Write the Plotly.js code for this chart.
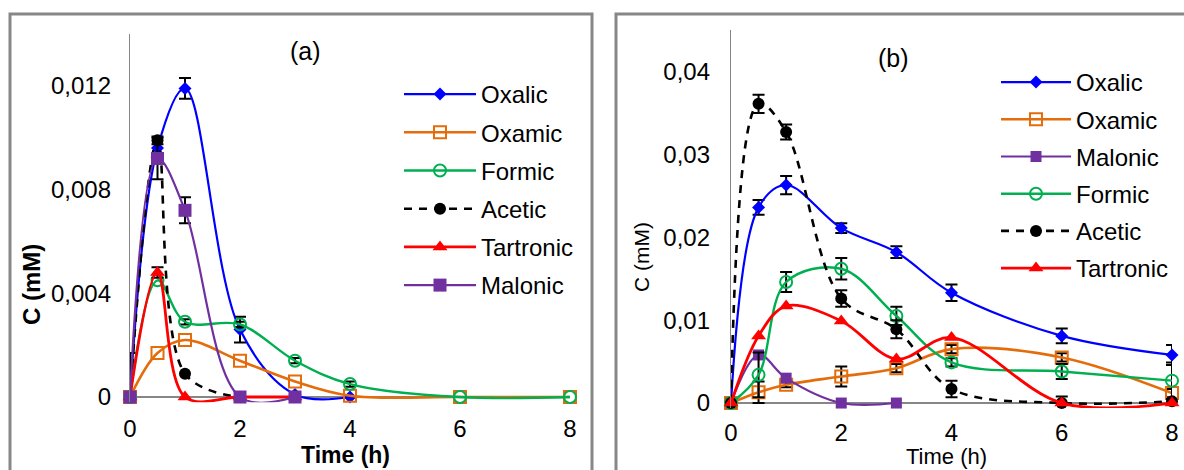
<!DOCTYPE html>
<html><head><meta charset="utf-8">
<script src="https://cdn.plot.ly/plotly-3.0.1.min.js"></script>
<style>html,body{margin:0;padding:0;background:#fff}#chart{width:1184px;height:470px}</style>
</head><body><div id="chart"></div>
<script>
// ---------- data ----------
const timeH = [0, 0.5, 1, 2, 3, 4, 6, 8];
const xTicks = [0, 2, 4, 6, 8];
const xTickText = ['0', '2', '4', '6', '8'];

// panel (a)
const aOxalic    = [0, 0.0096, 0.0119, 0.0026, 0.0001, 0, null, null];
const aOxamic    = [0, 0.0017, 0.0022, 0.0014, 0.0006, 0.00005, 0, 0];
const aFormic    = [0, 0.0045, 0.0029, 0.0028, 0.0014, 0.0005, 0, 0];
const aAcetic    = [0, 0.0099, 0.0009, 0, null, null, null, null];
const aTartronic = [0, 0.0048, 0, 0, 0, null, null, null];
const aMalonic   = [0, 0.0092, 0.0072, 0, 0, null, null, null];

const aOxalicErr    = [NaN, NaN, 0.0004, 0.0005, NaN, NaN, NaN, NaN];
const aOxamicErrUp  = [0.0017, NaN, NaN, NaN, NaN, NaN, NaN, NaN];
const aOxamicErrDn  = [0, NaN, NaN, NaN, NaN, NaN, NaN, NaN];
const aFormicErr    = [NaN, NaN, 0.0001, 0.0001, 0.0001, 0.0001, NaN, NaN];
const aAceticErr    = [NaN, 0.00015, NaN, NaN, NaN, NaN, NaN, NaN];
const aTartronicErr = [NaN, 0.0002, NaN, NaN, NaN, NaN, NaN, NaN];
const aMalonicErr   = [NaN, 0.0008, 0.0005, NaN, NaN, NaN, NaN, NaN];

const aYTicks = [0, 0.004, 0.008, 0.012];
const aYTickText = ['0', '0,004', '0,008', '0,012'];

// panel (b)
const bOxalic    = [0, 0.0236, 0.0263, 0.0211, 0.0182, 0.0133, 0.0081, 0.0058];
const bOxamic    = [0, 0.0013, 0.0022, 0.0032, 0.0042, 0.0065, 0.0055, 0.0012];
const bMalonic   = [0, 0.0058, 0.0030, 0, 0, null, null, null];
const bFormic    = [0, 0.0034, 0.0146, 0.0162, 0.0105, 0.0049, 0.0038, 0.0027];
const bAcetic    = [0, 0.0361, 0.0327, 0.0126, 0.0089, 0.0017, 0, 0.0002];
const bTartronic = [0, 0.0081, 0.0117, 0.0099, 0.0053, 0.0079, 0, 0];

const bOxalicErr    = [NaN, 0.0009, 0.0011, 0.0006, 0.0007, 0.0010, 0.0009, 0.0012];
const bOxamicErr    = [NaN, 0.0013, 0.0003, 0.0012, 0.0005, 0.0005, 0.0005, 0.0005];
const bMalonicErr   = [NaN, NaN, NaN, NaN, NaN, NaN, NaN, NaN];
const bFormicErr    = [NaN, 0.0027, 0.0012, 0.0013, 0.0011, 0.0005, 0.0009, 0.0022];
const bAceticErr    = [NaN, 0.0011, 0.0009, 0.0010, 0.0011, 0.0010, 0.0008, NaN];
const bTartronicErr = [NaN, NaN, NaN, NaN, NaN, NaN, NaN, NaN];

const bYTicks = [0, 0.01, 0.02, 0.03, 0.04];
const bYTickText = ['0', '0,01', '0,02', '0,03', '0,04'];

// ---------- styles ----------
const FONT = 'Liberation Sans, Arial, sans-serif';
const C_BLUE = '#0000ff', C_ORANGE = '#e46c0a', C_GREEN = '#00b050',
      C_BLACK = '#000000', C_RED = '#ff0000', C_PURPLE = '#7030a0';

function errObj(up, dn) {
  const e = {type: 'data', array: up, color: '#000', thickness: 2, width: 6, visible: true};
  if (dn) { e.symmetric = false; e.arrayminus = dn; }
  return e;
}
function tr(name, y, err, axis, legend, grp, st) {
  return {
    type: 'scatter', mode: 'lines+markers', name: name, x: timeH, y: y,
    xaxis: axis[0], yaxis: axis[1], legend: legend, legendgroup: grp,
    cliponaxis: false,
    line: {color: st.color, width: st.lw, shape: 'spline', smoothing: 1, dash: st.dash || 'solid'},
    marker: {symbol: st.sym, size: st.size, color: st.fill || st.color,
             line: {color: st.color, width: st.mlw || 0}},
    error_y: err
  };
}
const SA = ['x', 'y'], SB = ['x2', 'y2'];
const st = {
  oxalic:   {color: C_BLUE, lw: 2.2, sym: 'diamond', size: 10},
  oxamic:   {color: C_ORANGE, lw: 2.6, sym: 'square-open', size: 12, mlw: 2},
  formic:   {color: C_GREEN, lw: 2.4, sym: 'circle-open', size: 12, mlw: 2},
  acetic:   {color: C_BLACK, lw: 2.6, sym: 'circle', size: 12, dash: '8px,7px'},
  tartronic:{color: C_RED, lw: 2.8, sym: 'triangle-up', size: 13},
  malonic:  {color: C_PURPLE, lw: 2.2, sym: 'square', size: 13}
};

const traces = [
  tr('Oxalic', aOxalic, errObj(aOxalicErr), SA, 'legend', 'a1', st.oxalic),
  tr('Oxamic', aOxamic, errObj(aOxamicErrUp, aOxamicErrDn), SA, 'legend', 'a2', st.oxamic),
  tr('Formic', aFormic, errObj(aFormicErr), SA, 'legend', 'a3', st.formic),
  tr('Acetic', aAcetic, errObj(aAceticErr), SA, 'legend', 'a4', st.acetic),
  tr('Tartronic', aTartronic, errObj(aTartronicErr), SA, 'legend', 'a5', st.tartronic),
  tr('Malonic', aMalonic, errObj(aMalonicErr), SA, 'legend', 'a6', st.malonic),

  tr('Oxalic', bOxalic, errObj(bOxalicErr), SB, 'legend2', 'b1', st.oxalic),
  tr('Oxamic', bOxamic, errObj(bOxamicErr), SB, 'legend2', 'b2', st.oxamic),
  tr('Malonic', bMalonic, errObj(bMalonicErr), SB, 'legend2', 'b3', Object.assign({}, st.malonic, {size: 11})),
  tr('Formic', bFormic, errObj(bFormicErr), SB, 'legend2', 'b4', st.formic),
  tr('Acetic', bAcetic, errObj(bAceticErr), SB, 'legend2', 'b5', st.acetic),
  tr('Tartronic', bTartronic, errObj(bTartronicErr), SB, 'legend2', 'b6', st.tartronic)
];

// ---------- layout ----------
const W = 1184, H = 470;
const px = v => v / W, py = v => (H - v) / H;
const axisGrey = '#868686';
const TICK_SIZE = 24;

function xAx(domain, anchor, standoff) {
  return {domain: domain, anchor: anchor, range: [0, 8], tickvals: xTicks, ticktext: xTickText,
          showgrid: false, zeroline: false, showline: false, ticks: '', ticklabelstandoff: standoff,
          tickfont: {family: FONT, size: TICK_SIZE, color: '#000'}, fixedrange: true};
}
function yAx(domain, anchor, range, tv, tt, standoff) {
  return {domain: domain, anchor: anchor, range: range, tickvals: tv, ticktext: tt,
          showgrid: false, zeroline: true, zerolinecolor: axisGrey, zerolinewidth: 1.2,
          showline: true, linecolor: axisGrey, linewidth: 1.2, ticks: '', ticklabelstandoff: standoff,
          tickfont: {family: FONT, size: TICK_SIZE, color: '#000'}, fixedrange: true};
}

const layout = {
  width: W, height: H, margin: {l: 0, r: 0, t: 0, b: 0},
  paper_bgcolor: '#ffffff', plot_bgcolor: 'rgba(0,0,0,0)',
  font: {family: FONT, size: 24, color: '#000'},
  showlegend: true,
  xaxis: xAx([px(130), px(570)], 'y', 10),
  yaxis: yAx([py(402.2), py(34)], 'x', [-0.0002, 0.014], aYTicks, aYTickText, 13),
  xaxis2: xAx([px(731), px(1172)], 'y2', 8),
  yaxis2: yAx([py(408), py(30)], 'x2', [-0.0006, 0.045], bYTicks, bYTickText, 15),
  legend: {x: px(399), y: py(72), xanchor: 'left', yanchor: 'top', bgcolor: 'rgba(0,0,0,0)',
           font: {family: FONT, size: 24, color: '#000'}, itemwidth: 72,
           traceorder: 'grouped', tracegroupgap: 4},
  legend2: {x: px(996), y: py(60), xanchor: 'left', yanchor: 'top', bgcolor: 'rgba(0,0,0,0)',
            font: {family: FONT, size: 24, color: '#000'}, itemwidth: 70,
            traceorder: 'grouped', tracegroupgap: 3},
  shapes: [
    {type: 'rect', xref: 'paper', yref: 'paper', x0: px(10), x1: px(592), y0: py(490), y1: py(14),
     line: {color: '#878787', width: 3}, fillcolor: 'rgba(0,0,0,0)', layer: 'below'},
    {type: 'rect', xref: 'paper', yref: 'paper', x0: px(616), x1: px(1200), y0: py(490), y1: py(14),
     line: {color: '#878787', width: 3}, fillcolor: 'rgba(0,0,0,0)', layer: 'below'}
  ],
  annotations: [
    {text: '(a)', x: px(305), y: py(51), xref: 'paper', yref: 'paper', showarrow: false,
     xanchor: 'center', yanchor: 'middle', font: {family: FONT, size: 25, color: '#000'}},
    {text: '(b)', x: px(893), y: py(58), xref: 'paper', yref: 'paper', showarrow: false,
     xanchor: 'center', yanchor: 'middle', font: {family: FONT, size: 25, color: '#000'}},
    {text: '<b>C (mM)</b>', x: px(31), y: py(285), xref: 'paper', yref: 'paper', showarrow: false,
     textangle: -90, xanchor: 'center', yanchor: 'middle', font: {family: FONT, size: 24, color: '#000'}},
    {text: '<b>Time (h)</b>', x: px(345), y: py(455), xref: 'paper', yref: 'paper', showarrow: false,
     xanchor: 'center', yanchor: 'middle', font: {family: FONT, size: 23, color: '#000'}},
    {text: 'C (mM)', x: px(641), y: py(257), xref: 'paper', yref: 'paper', showarrow: false,
     textangle: -90, xanchor: 'center', yanchor: 'middle', font: {family: FONT, size: 21, color: '#000'}},
    {text: 'Time (h)', x: px(946), y: py(456), xref: 'paper', yref: 'paper', showarrow: false,
     xanchor: 'center', yanchor: 'middle', font: {family: FONT, size: 22, color: '#000'}}
  ]
};

Plotly.newPlot('chart', traces, layout, {staticPlot: true, displayModeBar: false});
</script>
</body></html>
